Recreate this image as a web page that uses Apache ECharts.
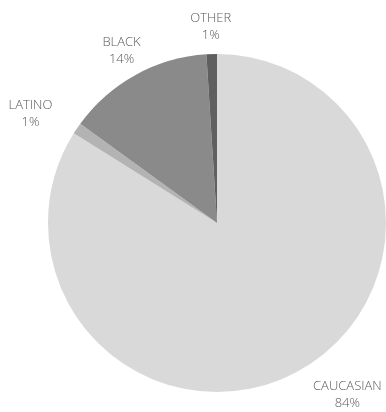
<!DOCTYPE html>
<html>
<head>
<meta charset="utf-8">
<script src="https://cdn.jsdelivr.net/npm/echarts@6/dist/echarts.min.js"></script>
<style>
  html, body { margin: 0; padding: 0; background: #fff; }
  #main { width: 386px; height: 412px; }
</style>
</head>
<body>
<div id="main"></div>
<script>
// 資料：順時針從 12 點鐘方向開始
const categories = ['CAUCASIAN', 'LATINO', 'BLACK', 'OTHER'];
const shares = [83.9, 1.1, 14.0, 1.0];

// 標籤微調（水平方向，px）
const labelNudge = { LATINO: -20, CAUCASIAN: 27 };

const chart = echarts.init(document.getElementById('main'));

const option = {
  animation: false,
  color: ['#d9d9d9', '#b3b3b3', '#8a8a8a', '#5f5f5f'],
  series: [
    {
      type: 'pie',
      center: [217, 223],
      radius: 169,
      startAngle: 90,
      clockwise: true,
      avoidLabelOverlap: false,
      percentPrecision: 0,
      itemStyle: { borderWidth: 0 },
      label: {
        show: true,
        position: 'outside',
        formatter: '{b}\n{d}%',
        fontFamily: '"Open Sans", sans-serif',
        fontWeight: 300,
        fontSize: 13,
        lineHeight: 17,
        color: '#595959',
        align: 'center'
      },
      labelLine: {
        show: true,
        length: 10,
        length2: 0,
        lineStyle: { width: 0, opacity: 0 }
      },
      // 標籤框貼在扇區中線外側
      labelLayout: function (p) {
        const pts = p.labelLinePoints;
        if (!pts) return {};
        const dx = pts[1][0] - pts[0][0];
        const dy = pts[1][1] - pts[0][1];
        const len = Math.hypot(dx, dy) || 1;
        const ux = dx / len, uy = dy / len;
        const w = p.labelRect.width, h = p.labelRect.height;
        const name = categories[p.dataIndex];
        return {
          x: pts[1][0] + ux * w / 2 + (labelNudge[name] || 0),
          y: pts[1][1] + uy * h / 2,
          align: 'center',
          verticalAlign: 'middle'
        };
      },
      emphasis: { disabled: true },
      data: categories.map((name, i) => ({ name, value: shares[i] }))
    }
  ]
};

chart.setOption(option);
</script>
</body>
</html>
